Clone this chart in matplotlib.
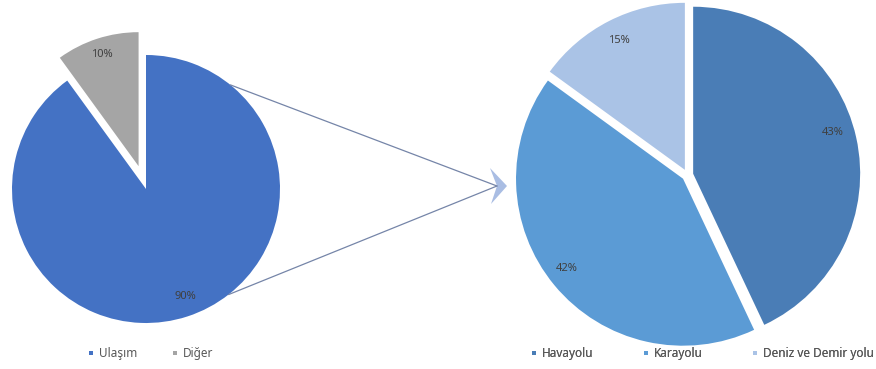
import numpy as np
import matplotlib.pyplot as plt
from matplotlib.lines import Line2D
from matplotlib.patches import Polygon

plt.rcParams['font.family'] = ['Noto Sans', 'DejaVu Sans']

# ---------------------------------------------------------------------------
# Data
# ---------------------------------------------------------------------------
left_labels = ['Ulaşım', 'Diğer']
left_values = [90, 10]
left_colors = ['#4472c4', '#a5a5a5']

right_labels = ['Havayolu', 'Karayolu', 'Deniz ve Demir yolu']
right_values = [43, 42, 15]
right_colors = ['#4a7db6', '#5b9bd5', '#aac3e6']

W, H = 876, 369
TXT = '#404040'
LEG = '#595959'

fig = plt.figure(figsize=(W / 100, H / 100), dpi=100)
ax = fig.add_axes([0, 0, 1, 1])


def draw_pie(values, colors, center, radius, explode, label_pos):
    # note: explode is in data units (pixels here), not a fraction of radius
    wedges, _ = ax.pie(values, colors=colors, startangle=90,
                       counterclock=False, explode=explode,
                       center=center, radius=radius,
                       wedgeprops=dict(linewidth=0))
    for w, v, (f, nudge) in zip(wedges, values, label_pos):
        mid = np.deg2rad((w.theta1 + w.theta2) / 2 + nudge)
        cx, cy = w.center
        ax.text(cx + f * w.r * np.cos(mid), cy + f * w.r * np.sin(mid),
                f"{v}%", ha='center', va='center', fontsize=8, color=TXT)
    return wedges


# left pie (y measured upward from the bottom of the figure)
lc, lr = (146, H - 189), 134
draw_pie(left_values, left_colors, lc, lr, [0, 24],
         [(0.85, 2), (0.88, 0)])

# right pie
rc, rr = (687.5, H - 175), 167
draw_pie(right_values, right_colors, rc, rr, [5.8, 5.8, 5.8],
         [(0.87, 4), (0.88, -2), (0.87, 0)])

# connector lines from the left pie to the arrow
tip = (497, H - 186)
for ang in (51, -52):
    a = np.deg2rad(ang)
    p = (lc[0] + lr * np.cos(a), lc[1] + lr * np.sin(a))
    ax.plot([p[0], tip[0]], [p[1], tip[1]], color='#7585a8', lw=0.9,
            solid_capstyle='round')

arrow = Polygon([(490, H - 168), (507, H - 186), (491, H - 204),
                 (497, H - 186)], closed=True, color='#a9bde3', lw=0)
ax.add_patch(arrow)


def legend(labels, colors, x, y, spacing):
    handles = [Line2D([], [], marker='s', ls='none', markersize=3.5,
                      markerfacecolor=c, markeredgewidth=0) for c in colors]
    lg = ax.legend(handles, labels, loc='center', bbox_to_anchor=(x, y),
                   bbox_transform=ax.transData, ncol=len(labels),
                   frameon=False, fontsize=8.5, handlelength=0.7,
                   handletextpad=0.3, columnspacing=spacing,
                   labelcolor=LEG)
    ax.add_artist(lg)


legend(left_labels, left_colors, 150, H - 354, 2.9)
legend(right_labels, right_colors, 702, H - 354, 4.1)

ax.set_xlim(0, W)
ax.set_ylim(0, H)
ax.set_aspect('auto')
ax.axis('off')

fig.savefig('out.png', dpi=100)
